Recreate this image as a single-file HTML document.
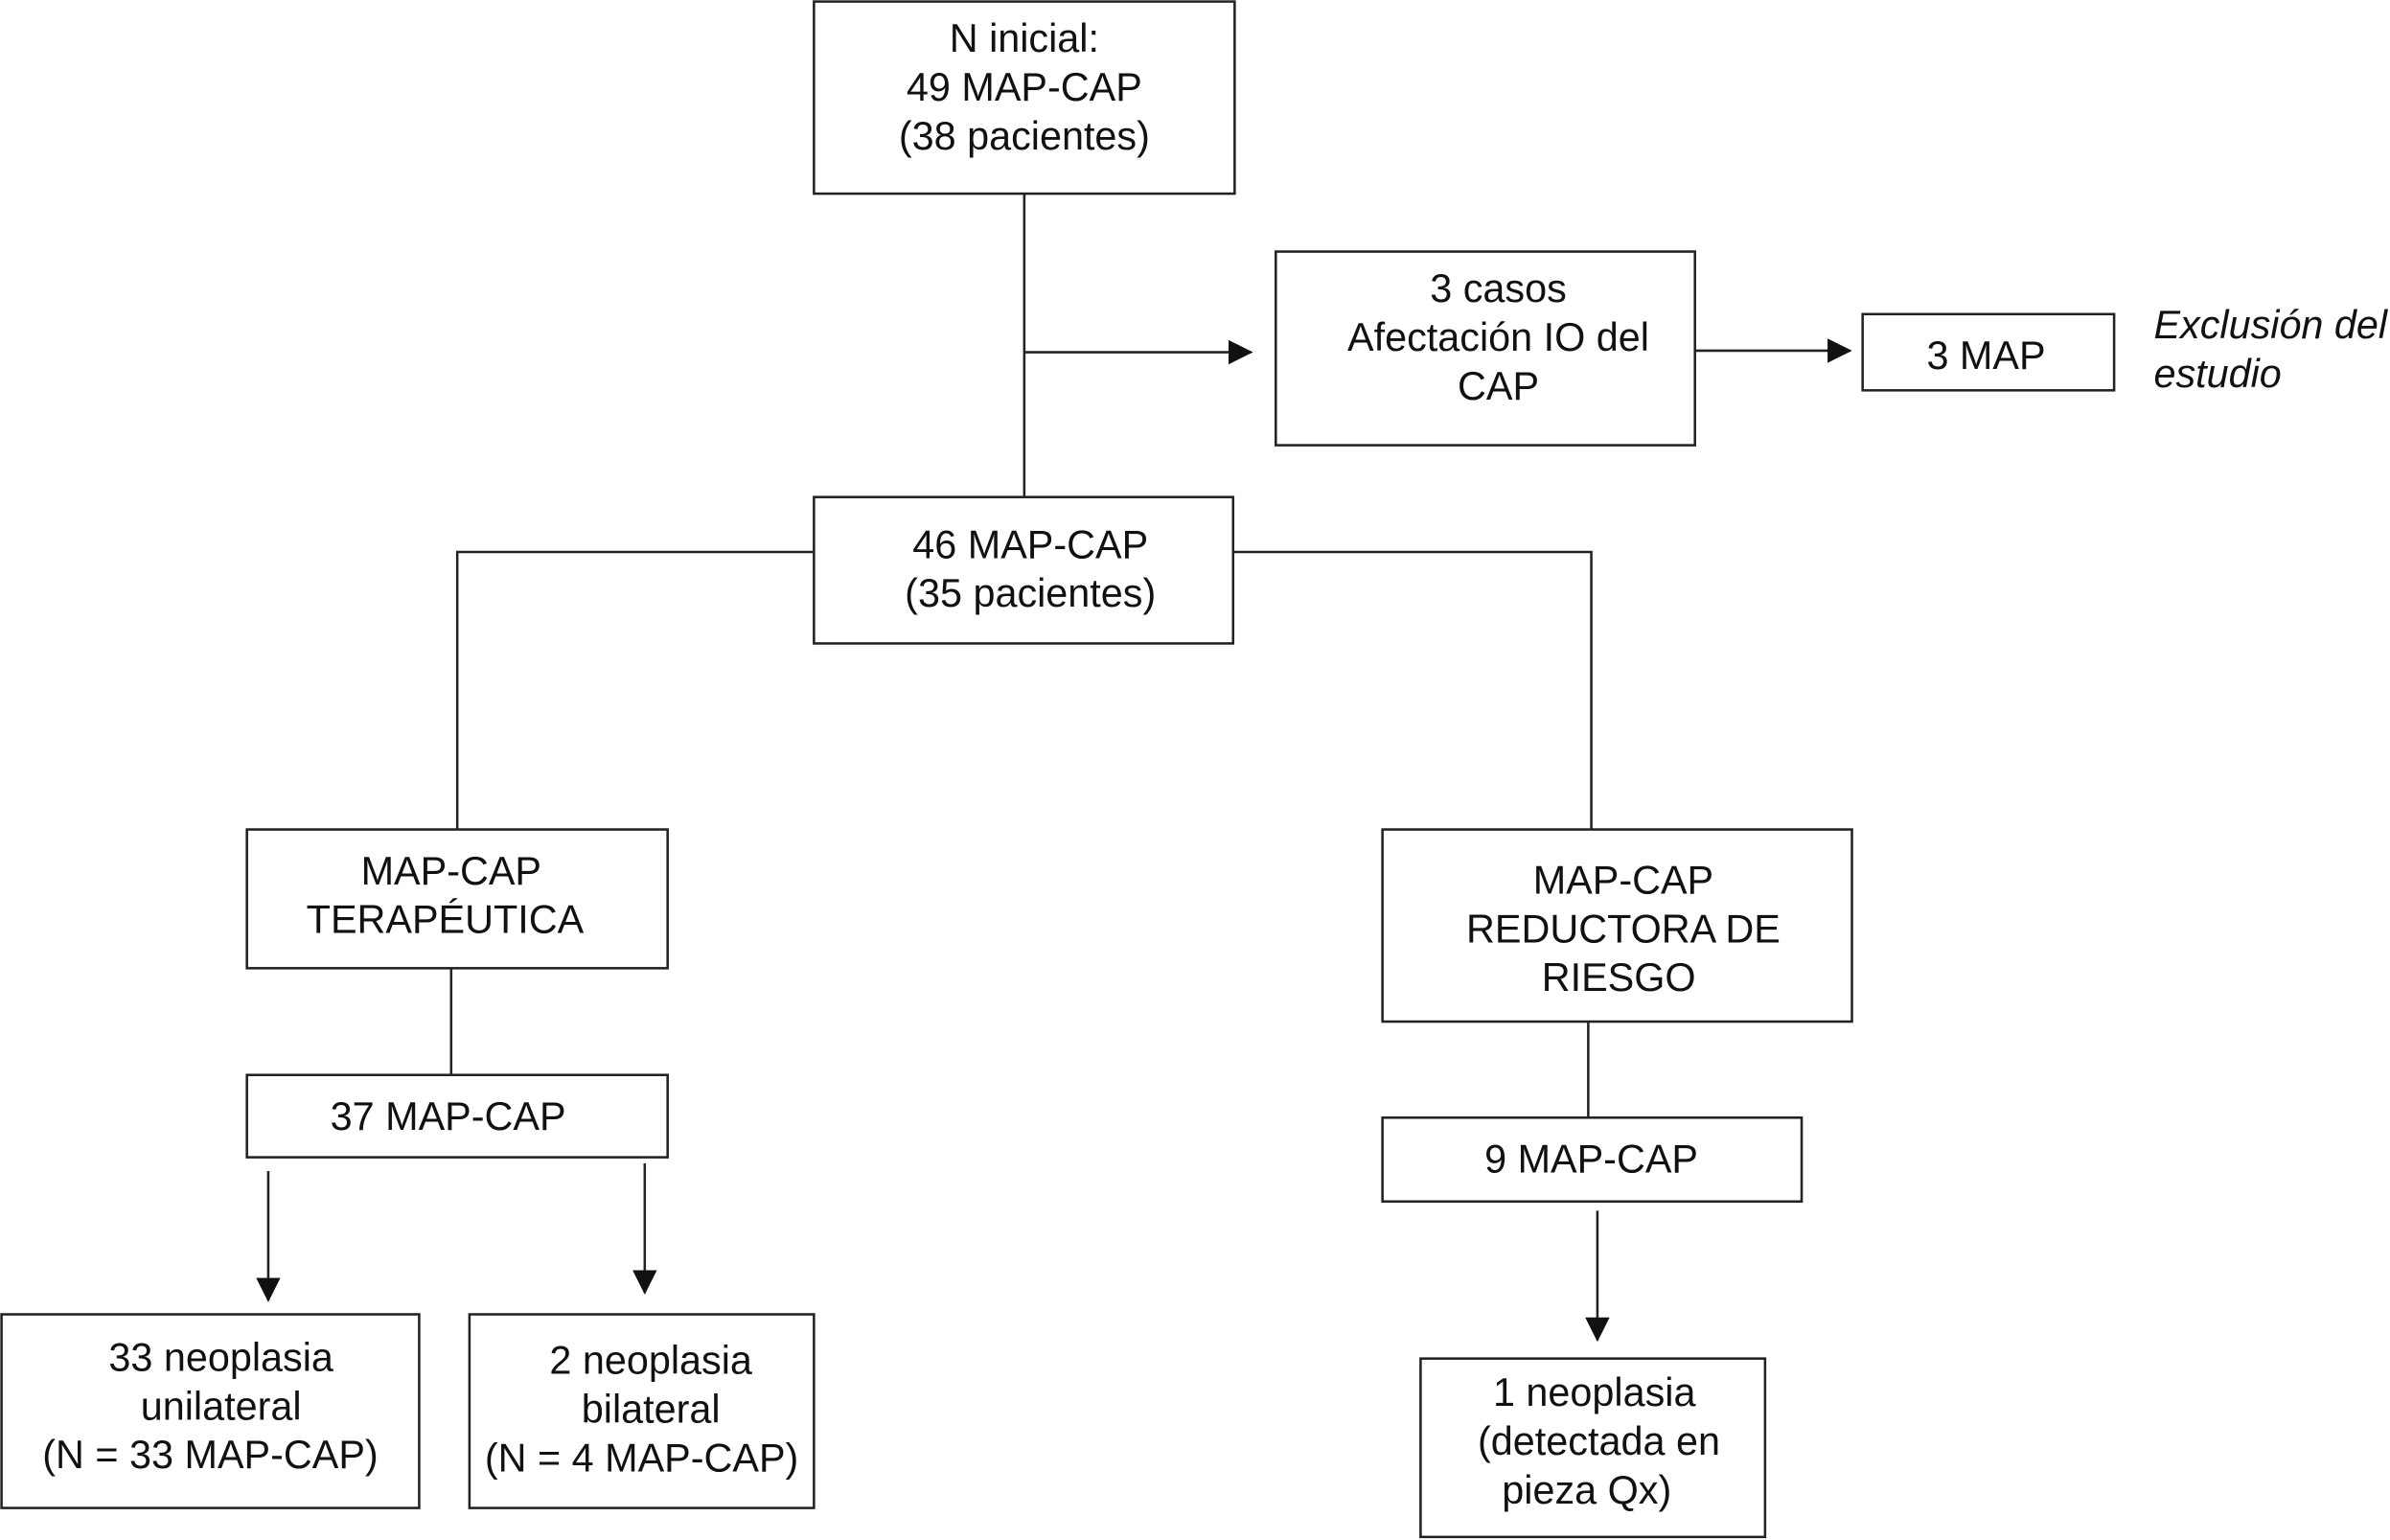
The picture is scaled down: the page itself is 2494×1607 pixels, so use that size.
<!DOCTYPE html>
<html><head><meta charset="utf-8"><style>
html,body{margin:0;padding:0;background:#fff;}
svg{display:block}
text{font-family:"Liberation Sans",Arial,sans-serif;font-size:26px;fill:#111;text-anchor:middle}
</style></head><body>
<svg width="2494" height="1607" viewBox="0 0 1568 1010" preserveAspectRatio="none" xmlns="http://www.w3.org/2000/svg">
<defs>
<marker id="b" markerWidth="16" markerHeight="16" refX="15" refY="8" orient="auto" markerUnits="userSpaceOnUse"><path d="M0,0 L16,8 L0,16 z" fill="#111"/></marker></defs>
<g fill="none" stroke="#222" stroke-width="1.6">
<rect x="534" y="1" width="276" height="126"/>
<rect x="837" y="165" width="275" height="127"/>
<rect x="1222" y="206" width="165" height="50"/>
<rect x="534" y="326" width="275" height="96"/>
<rect x="162" y="544" width="276" height="91"/>
<rect x="162" y="705" width="276" height="54"/>
<rect x="907" y="544" width="308" height="126"/>
<rect x="907" y="733" width="275" height="55"/>
<rect x="1" y="862" width="274" height="127"/>
<rect x="308" y="862" width="226" height="127"/>
<rect x="932" y="891" width="226" height="117"/>
<path d="M672 127 V326"/>
<path d="M672 231 H821" marker-end="url(#b)"/>
<path d="M1112 230 H1214" marker-end="url(#b)"/>
<path d="M534 362 H300 V544"/>
<path d="M809 362 H1044 V544"/>
<path d="M296 635 V705"/>
<path d="M1042 670 V733"/>
<path d="M176 768 V853" marker-end="url(#b)"/>
<path d="M423 763 V848" marker-end="url(#b)"/>
<path d="M1048 794 V879" marker-end="url(#b)"/>
</g>
<text x="672" y="34">N inicial:</text>
<text x="672" y="66">49 MAP-CAP</text>
<text x="672" y="98">(38 pacientes)</text>
<text x="983" y="198">3 casos</text>
<text x="983" y="230">Afectación IO del</text>
<text x="983" y="262">CAP</text>
<text x="1303" y="242">3 MAP</text>
<text x="1413" y="222" style="text-anchor:start;font-style:italic">Exclusión del</text>
<text x="1413" y="254" style="text-anchor:start;font-style:italic">estudio</text>
<text x="676" y="366">46 MAP-CAP</text>
<text x="676" y="398">(35 pacientes)</text>
<text x="296" y="580">MAP-CAP</text>
<text x="292" y="612">TERAPÉUTICA</text>
<text x="294" y="741">37 MAP-CAP</text>
<text x="1065" y="586">MAP-CAP</text>
<text x="1065" y="618">REDUCTORA DE</text>
<text x="1062" y="650">RIESGO</text>
<text x="1044" y="769">9 MAP-CAP</text>
<text x="145" y="899">33 neoplasia</text>
<text x="145" y="931">unilateral</text>
<text x="138" y="963">(N = 33 MAP-CAP)</text>
<text x="427" y="901">2 neoplasia</text>
<text x="427" y="933">bilateral</text>
<text x="421" y="965">(N = 4 MAP-CAP)</text>
<text x="1046" y="922">1 neoplasia</text>
<text x="1049" y="954">(detectada en</text>
<text x="1041" y="986">pieza Qx)</text>
</svg>
</body></html>
